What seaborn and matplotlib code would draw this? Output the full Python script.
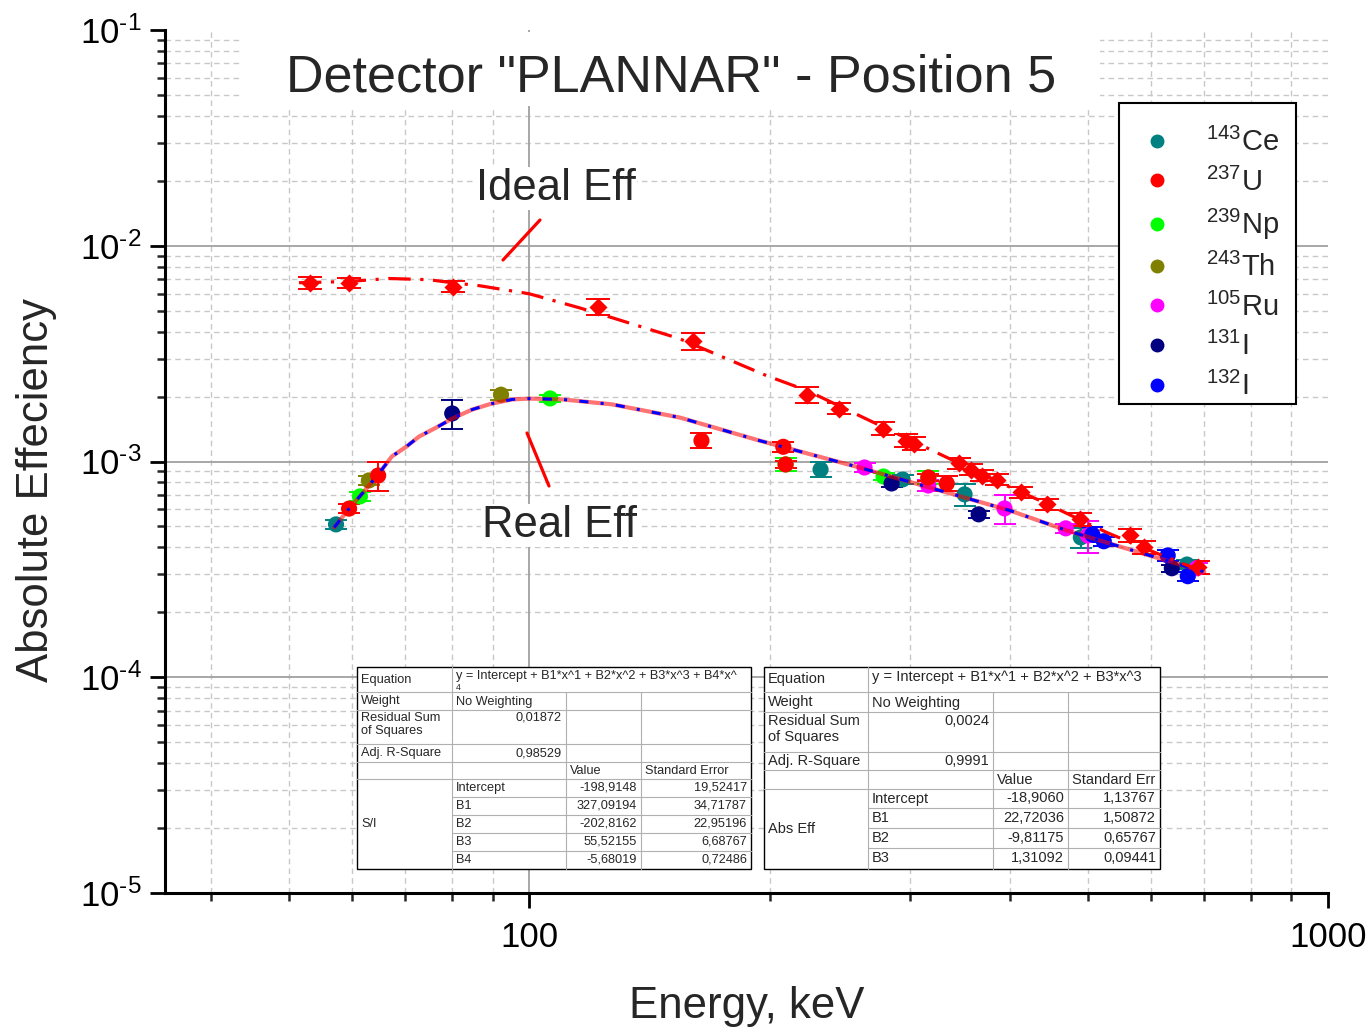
import numpy as np
import pandas as pd
import matplotlib
matplotlib.use("Agg")
import matplotlib.pyplot as plt
import seaborn as sns
from matplotlib.lines import Line2D
from matplotlib.patches import Rectangle
from matplotlib.ticker import LogLocator, NullFormatter, FuncFormatter

sns.set_style("ticks")
plt.rcParams["font.family"] = ["Liberation Sans", "DejaVu Sans"]
plt.rcParams["mathtext.fontset"] = "custom"
plt.rcParams["mathtext.rm"] = "Liberation Sans"
plt.rcParams["mathtext.it"] = "Liberation Sans:italic"
plt.rcParams["mathtext.bf"] = "Liberation Sans:bold"
plt.rcParams["mathtext.default"] = "regular"

# ---------------- data ----------------
nuclides = ["143Ce", "237U", "239Np", "243Th", "105Ru", "131I", "132I"]
legend_labels = [r"$^{143}$Ce", r"$^{237}$U", r"$^{239}$Np", r"$^{243}$Th",
                 r"$^{105}$Ru", r"$^{131}$I", r"$^{132}$I"]
colors = ["#008080", "#FF0000", "#00FF00", "#808000", "#FF00FF", "#000080", "#0000FF"]

ce_E = [57.3, 231.6, 293.4, 350.8, 490.4, 666]
ce_eff = [5.11e-4, 9.18e-4, 8.26e-4, 7.04e-4, 4.45e-4, 3.33e-4]
ce_err = [0.05, 0.08, 0.05, 0.12, 0.11, 0.05]

u_E = [59.5, 64.7, 164.3, 208, 209.4, 316, 333.2]
u_eff = [6.05e-4, 8.61e-4, 1.25e-3, 1.17e-3, 9.69e-4, 8.43e-4, 7.91e-4]
u_err = [0.05, 0.15, 0.08, 0.05, 0.04, 0.04, 0.08]

np_E = [61.4, 106.2, 209.4, 277.7, 316]
np_eff = [6.89e-4, 1.96e-3, 9.69e-4, 8.52e-4, 8.43e-4]
np_err = [0.05, 0.04, 0.07, 0.04, 0.07]

th_E = [63.0, 92.2]
th_eff = [8.17e-4, 2.04e-3]
th_err = [0.05, 0.05]

ru_E = [262.9, 316, 393.6, 469.6, 500.4, 685]
ru_eff = [9.38e-4, 7.74e-4, 6.06e-4, 4.9e-4, 4.54e-4, 3.2e-4]
ru_err = [0.05, 0.06, 0.15, 0.05, 0.17, 0.06]

i131_E = [80.1, 284.2, 365.3, 637.5]
i131_eff = [1.67e-3, 7.91e-4, 5.69e-4, 3.2e-4]
i131_err = [0.15, 0.04, 0.04, 0.04]

i132_E = [507, 524, 630, 667.5]
i132_eff = [4.59e-4, 4.27e-4, 3.67e-4, 2.94e-4]
i132_err = [0.08, 0.05, 0.06, 0.05]

ideal_E = [53.2, 59.5, 80.3, 122, 160.5, 222.9, 244.5, 277, 296, 302.8, 344.8,
           357, 368.6, 384.7, 412.5, 444.6, 489, 565, 588, 687]
ideal_eff = [6.74e-3, 6.74e-3, 6.46e-3, 5.22e-3, 3.63e-3, 2.04e-3, 1.76e-3, 1.42e-3,
             1.25e-3, 1.21e-3, 9.79e-4, 9.18e-4, 8.61e-4, 8.25e-4, 7.19e-4, 6.33e-4,
             5.39e-4, 4.54e-4, 4.0e-4, 3.23e-4]
ideal_err = [0.06, 0.05, 0.06, 0.09, 0.09, 0.08, 0.06, 0.07, 0.07, 0.07, 0.06,
             0.06, 0.06, 0.06, 0.06, 0.06, 0.07, 0.07, 0.07, 0.07]

ideal_fit_E = [51.5, 59.0, 66.8, 74.9, 80.1, 86.6, 100, 115.5, 127, 154.2, 198.2,
               222.9, 266.6, 323.6, 388, 435.5, 528.4, 598.4, 691]
ideal_fit_eff = [6.74e-3, 6.82e-3, 7.05e-3, 6.96e-3, 6.74e-3, 6.53e-3, 5.99e-3, 5.16e-3,
                 4.64e-3, 3.71e-3, 2.5e-3, 2.13e-3, 1.55e-3, 1.1e-3, 7.99e-4, 6.6e-4,
                 4.69e-4, 3.87e-4, 3.13e-4]

real_fit_E = [57.0, 59.5, 62.0, 65.0, 67.3, 70.2, 72.8, 76.5, 80.1, 84.8, 89.5, 95.2,
              100, 110, 127, 154.2, 194.2, 259.1, 399.5, 470.9, 569.6, 700]
real_fit_eff = [4.95e-4, 6.05e-4, 7.2e-4, 8.9e-4, 1.055e-3, 1.173e-3, 1.305e-3, 1.437e-3,
                1.58e-3, 1.74e-3, 1.85e-3, 1.94e-3, 1.957e-3, 1.94e-3, 1.84e-3, 1.6e-3,
                1.25e-3, 9.38e-4, 5.93e-4, 4.79e-4, 3.87e-4, 3.08e-4]

# table contents
t1_col0 = ["Equation", "Weight", "Residual Sum\nof Squares", "Adj. R-Square"]
t1_eq = "y = Intercept + B1*x^1 + B2*x^2 + B3*x^3 + B4*x^"
t1_stats = ["No Weighting", "0,01872", "0,98529"]
t1_head = ["Value", "Standard Error"]
t1_group = "S/I"
t1_names = ["Intercept", "B1", "B2", "B3", "B4"]
t1_values = ["-198,9148", "327,09194", "-202,8162", "55,52155", "-5,68019"]
t1_errors = ["19,52417", "34,71787", "22,95196", "6,68767", "0,72486"]

t2_col0 = ["Equation", "Weight", "Residual Sum\nof Squares", "Adj. R-Square"]
t2_eq = "y = Intercept + B1*x^1 + B2*x^2 + B3*x^3"
t2_stats = ["No Weighting", "0,0024", "0,9991"]
t2_head = ["Value", "Standard Err"]
t2_group = "Abs Eff"
t2_names = ["Intercept", "B1", "B2", "B3"]
t2_values = ["-18,9060", "22,72036", "-9,81175", "1,31092"]
t2_errors = ["1,13767", "1,50872", "0,65767", "0,09441"]

# ---------------- build frames ----------------
groups = [(ce_E, ce_eff, ce_err), (u_E, u_eff, u_err), (np_E, np_eff, np_err),
          (th_E, th_eff, th_err), (ru_E, ru_eff, ru_err), (i131_E, i131_eff, i131_err),
          (i132_E, i132_eff, i132_err)]
rows = []
for name, (E, eff, err) in zip(nuclides, groups):
    for e, v, r in zip(E, eff, err):
        rows.append({"Energy": e, "Eff": v, "Err": r, "Nuclide": name})
df = pd.DataFrame(rows)
draw_order = ["239Np", "243Th", "143Ce", "105Ru", "131I", "132I", "237U"]
df["ord"] = df["Nuclide"].map({n: i for i, n in enumerate(draw_order)})
df = df.sort_values("ord", kind="stable")
palette = dict(zip(nuclides, colors))

ideal_df = pd.DataFrame({"Energy": ideal_E, "Eff": ideal_eff, "Err": ideal_err})
ideal_fit = pd.DataFrame({"Energy": ideal_fit_E, "Eff": ideal_fit_eff})
real_fit = pd.DataFrame({"Energy": real_fit_E, "Eff": real_fit_eff})

W, H = 1371, 1028
fig = plt.figure(figsize=(W / 100, H / 100), dpi=100)
ax = fig.add_axes([165 / W, 1 - 893 / H, (1328 - 165) / W, (893 - 30) / H])
ax.set_xscale("log")
ax.set_yscale("log")
ax.set_xlim(35, 1000)
ax.set_ylim(1e-5, 1e-1)
ax.set_axisbelow(True)

def dec_fmt(v, pos):
    ex = int(round(np.log10(v)))
    if ex < 0:
        return r"$10^{\text{-%d}}$" % (-ex)
    return r"$10^{%d}$" % ex

ax.xaxis.set_minor_locator(LogLocator(base=10, subs=np.arange(2, 10), numticks=20))
ax.yaxis.set_minor_locator(LogLocator(base=10, subs=np.arange(2, 10), numticks=20))
ax.yaxis.set_major_locator(LogLocator(base=10, numticks=10))
ax.yaxis.set_major_formatter(FuncFormatter(dec_fmt))
ax.xaxis.set_minor_formatter(NullFormatter())
ax.yaxis.set_minor_formatter(NullFormatter())
ax.set_xticks([100, 1000])
ax.set_xticklabels(["100", "1000"])
ax.grid(which="minor", color="#c8c8c8", lw=1.0, ls=(0, (4, 3)))
ax.grid(which="major", visible=False)
for v in [1e-2, 1e-3, 1e-4]:
    ax.axhline(v, color="#a0a0a0", lw=1.3, zorder=0.6)
ax.axvline(100, color="#a0a0a0", lw=1.3, zorder=0.6)

# title white box
ax.add_patch(Rectangle((240 / W, 1 - 106 / H), (1100 - 240) / W, (106 - 32) / H,
                       transform=fig.transFigure, facecolor="white", edgecolor="none",
                       zorder=1, clip_on=False))

# error bars
for name in draw_order:
    sub = df[df["Nuclide"] == name]
    ax.errorbar(sub["Energy"], sub["Eff"], yerr=sub["Eff"] * sub["Err"], fmt="none",
                ecolor=palette[name], elinewidth=1.4, capsize=8, capthick=1.4, zorder=2)
ax.errorbar(ideal_df["Energy"], ideal_df["Eff"], yerr=ideal_df["Eff"] * ideal_df["Err"],
            fmt="none", ecolor="#FF0000", elinewidth=1.4, capsize=8.5, capthick=1.4, zorder=2)

# scatter points
sns.scatterplot(data=df, x="Energy", y="Eff", hue="Nuclide", palette=palette,
                s=135, linewidth=0, legend=False, ax=ax, zorder=3)
sns.scatterplot(data=ideal_df, x="Energy", y="Eff", color="#FF0000", marker="D",
                s=85, linewidth=0, legend=False, ax=ax, zorder=3)

# fit lines
sns.lineplot(data=real_fit, x="Energy", y="Eff", color="#FF0000", lw=3.0, alpha=0.55,
             ax=ax, zorder=4, estimator=None, sort=False)
sns.lineplot(data=real_fit, x="Energy", y="Eff", color="#0000FF", lw=2.2,
             dashes=False, ax=ax, zorder=4, estimator=None, sort=False)
ax.lines[-1].set_dashes((3, 4, 1, 4))
sns.lineplot(data=ideal_fit, x="Energy", y="Eff", color="#FF0000", lw=2.3,
             ax=ax, zorder=4, estimator=None, sort=False)
ax.lines[-1].set_dashes((7, 3, 1, 3))

# axes style
for s in ["top", "right"]:
    ax.spines[s].set_visible(False)
for s in ["left", "bottom"]:
    ax.spines[s].set_linewidth(2.2)
    ax.spines[s].set_color("black")
ax.tick_params(which="major", length=11, width=2, direction="out", labelsize=25,
               colors="black", pad=6)
ax.tick_params(which="minor", length=6, width=1.8, direction="out")
ax.tick_params(axis="x", which="major", pad=9)

ax.set_xlabel("Energy, keV", fontsize=31.5)
ax.set_ylabel("Absolute Effeciency", fontsize=31.5)
ax.xaxis.set_label_coords(0.5, -0.1075)
ax.yaxis.set_label_coords(-0.0925, 0.467)

# texts
def fx(x):
    return x / W

def fy(y):
    return 1 - y / H

fig.text(fx(671), fy(91), 'Detector "PLANNAR" - Position 5', fontsize=37.5,
         ha="center", va="baseline", zorder=5)
fig.text(fx(476), fy(200), "Ideal Eff", fontsize=31.4, ha="left", va="baseline",
         zorder=5, bbox=dict(facecolor="white", edgecolor="none", pad=1))
fig.text(fx(482), fy(537), "Real Eff", fontsize=31.4, ha="left", va="baseline",
         zorder=5, bbox=dict(facecolor="white", edgecolor="none", pad=1))
fig.add_artist(Line2D([fx(503), fx(540)], [fy(260), fy(220)], color="#FF0000", lw=2.3, zorder=5))
fig.add_artist(Line2D([fx(527), fx(549)], [fy(433), fy(486)], color="#FF0000", lw=2.3, zorder=5))

# legend (frame drawn separately)
fig.add_artist(Rectangle((fx(1119), fy(404)), fx(1296) - fx(1119), fy(103) - fy(404),
                         transform=fig.transFigure, facecolor="white", edgecolor="black",
                         lw=1.5, zorder=9))
handles = [Line2D([], [], marker="o", ls="", color=c, markersize=9) for c in colors]
leg = fig.legend(handles, legend_labels, loc="upper left",
                 bbox_to_anchor=(fx(1119), fy(116)), bbox_transform=fig.transFigure,
                 borderaxespad=0, fontsize=21, frameon=False,
                 borderpad=0.4, handlelength=1.8, handletextpad=0.8,
                 labelspacing=0.36)
leg.set_zorder(10)

# tables
def hline(x0, x1, y, color, lw=0.8):
    fig.add_artist(Line2D([fx(x0), fx(x1)], [fy(y), fy(y)], color=color, lw=lw, zorder=7))

def vline(x, y0, y1, color, lw=0.8):
    fig.add_artist(Line2D([fx(x), fx(x)], [fy(y0), fy(y1)], color=color, lw=lw, zorder=7))

def txt(x, y, s, fs, ha="left", va="center", **kw):
    return fig.text(fx(x), fy(y), s, fontsize=fs, ha=ha, va=va, zorder=8, **kw)

def draw_table(xs, ys, col0, eq, stats, head, group, names, values, errors, fs, eq_extra=None):
    gray = "#b0b0b0"
    rect = Rectangle((fx(xs[0]), fy(ys[-1])), fx(xs[-1]) - fx(xs[0]), fy(ys[0]) - fy(ys[-1]),
                     transform=fig.transFigure, facecolor="white", edgecolor="black",
                     lw=1.0, zorder=6)
    fig.add_artist(rect)
    for i in range(1, 6):
        hline(xs[0], xs[-1], ys[i], gray)
    for i in range(6, len(ys) - 1):
        hline(xs[1], xs[-1], ys[i], gray)
    vline(xs[1], ys[0], ys[-1], gray)
    vline(xs[2], ys[1], ys[-1], gray)
    vline(xs[3], ys[1], ys[-1], gray)
    pad = 4
    for i, lab in enumerate(col0):
        if "\n" in lab:
            txt(xs[0] + pad, ys[i] + 2, lab, fs, va="top", linespacing=1.15)
        else:
            txt(xs[0] + pad, (ys[i] + ys[i + 1]) / 2, lab, fs)
    if eq_extra is not None:
        txt(xs[1] + pad, ys[0] + 8.5, eq, fs)
        txt(xs[1] + pad, ys[1] - 0.3, eq_extra, 6.2, va="bottom")
    else:
        txt(xs[1] + pad, (ys[0] + ys[1]) / 2 - 2, eq, fs)
    txt(xs[1] + pad, (ys[1] + ys[2]) / 2 + 0.8, stats[0], fs)
    txt(xs[2] - pad, ys[2] + 2, stats[1], fs, ha="right", va="top")
    txt(xs[2] - pad, (ys[3] + ys[4]) / 2, stats[2], fs, ha="right")
    txt(xs[2] + pad, (ys[4] + ys[5]) / 2, head[0], fs)
    txt(xs[3] + pad, (ys[4] + ys[5]) / 2, head[1], fs)
    txt(xs[0] + pad, (ys[5] + ys[-1]) / 2, group, fs)
    for k, (n, v, e) in enumerate(zip(names, values, errors)):
        yc = (ys[5 + k] + ys[6 + k]) / 2
        txt(xs[1] + pad, yc, n, fs)
        txt(xs[3] - pad, yc, v, fs, ha="right")
        txt(xs[4] - pad, yc, e, fs, ha="right")

draw_table([357, 452, 566, 641, 751],
           [667, 692, 710, 744, 762, 779, 797, 815, 833, 851, 869],
           t1_col0, t1_eq, t1_stats, t1_head, t1_group, t1_names, t1_values, t1_errors,
           9.2, eq_extra="4")
draw_table([764, 868, 993, 1068, 1160],
           [667, 692, 712, 752, 770, 789, 808, 828, 848, 869],
           t2_col0, t2_eq, t2_stats, t2_head, t2_group, t2_names, t2_values, t2_errors,
           10.5)

fig.savefig("out.png", dpi=100)
